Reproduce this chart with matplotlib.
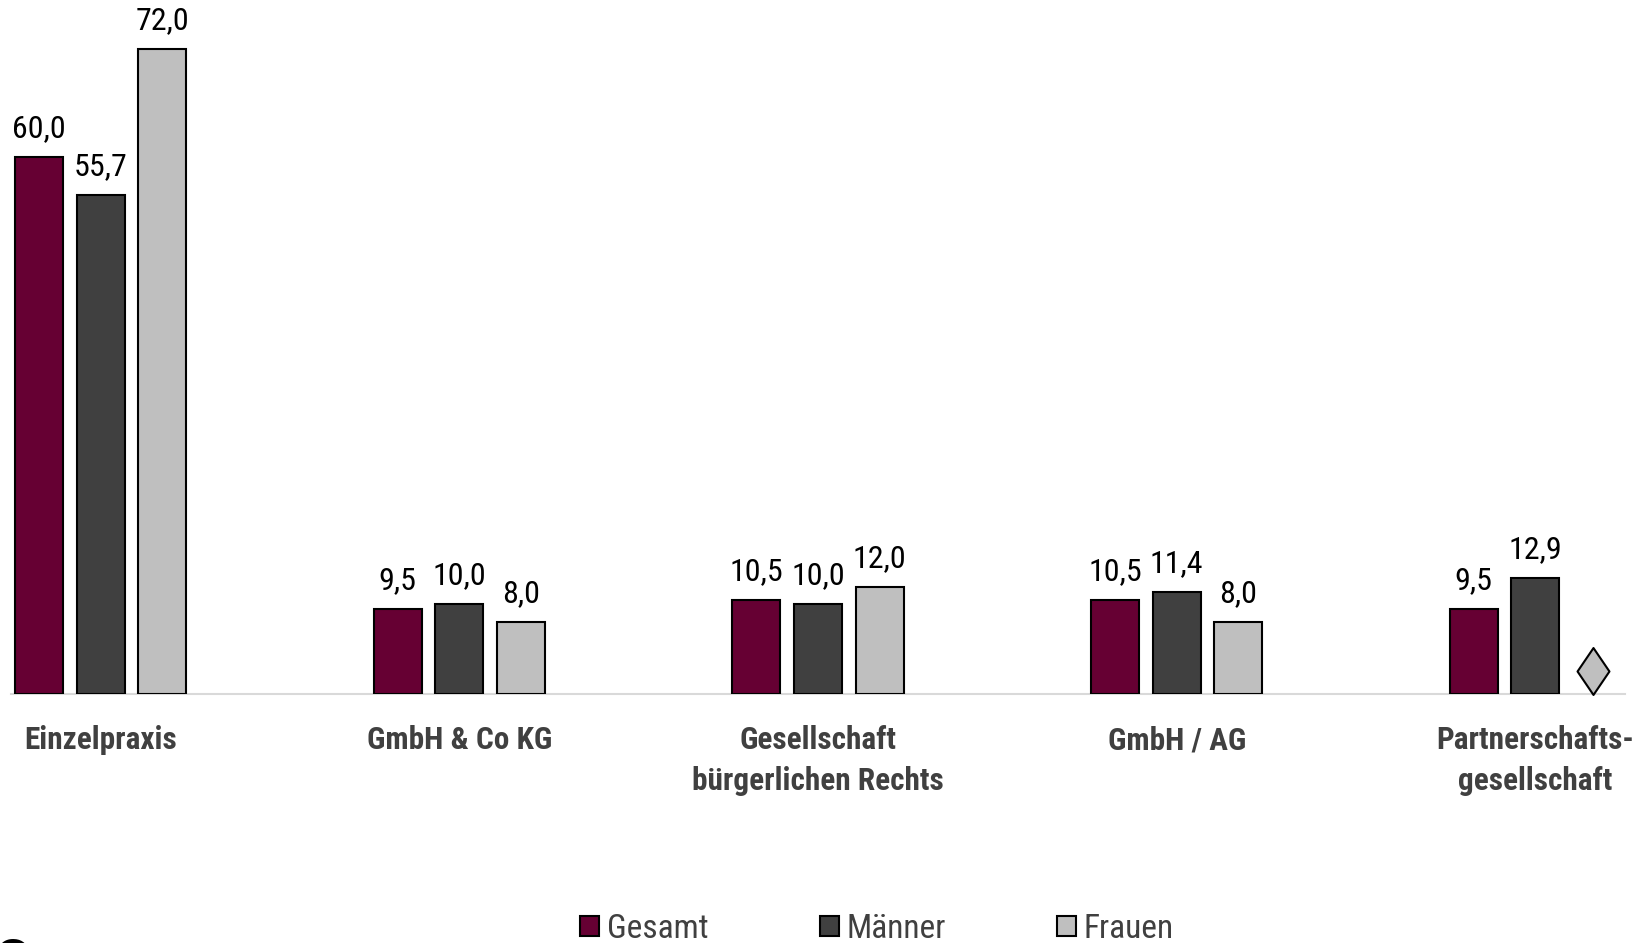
import matplotlib
matplotlib.use("Agg")
import matplotlib.pyplot as plt
import numpy as np
from matplotlib.path import Path

plt.rcParams['font.family'] = ['Liberation Sans Narrow', 'Arial Narrow', 'Roboto Condensed',
                               'Archivo Narrow', 'PT Sans Narrow', 'Liberation Sans', 'DejaVu Sans']

categories = ["Einzelpraxis", "GmbH & Co KG", "Gesellschaft\nbürgerlichen Rechts",
              "GmbH / AG", "Partnerschafts-\ngesellschaft"]
series_names = ["Gesamt", "Männer", "Frauen"]
gesamt = [60.0, 9.5, 10.5, 10.5, 9.5]
maenner = [55.7, 10.0, 10.0, 11.4, 12.9]
frauen = [72.0, 8.0, 12.0, 8.0, np.nan]
missing_marker_value = 2.6   # diamond placeholder (no value for Frauen / Partnerschaftsgesellschaft)

colors = ["#660033", "#404040", "#BFBFBF"]

fig = plt.figure(figsize=(16.46, 9.43), dpi=100)
ax = fig.add_axes([11/1646, 1-694/943, (1625-11)/1646, 694/943])

x = np.arange(len(categories))
step = 0.172
width = 0.134
data = [gesamt, maenner, frauen]
bars = []
for i, (vals, c, name) in enumerate(zip(data, colors, series_names)):
    b = ax.bar(x + (i-1)*step, vals, width, color=c, edgecolor="black", linewidth=1.5,
               label=name, zorder=3)
    bars.append(b)
    labels = ["" if np.isnan(v) else f"{v:.1f}".replace(".", ",") for v in vals]
    ax.bar_label(b, labels=labels, padding=10, fontsize=23, color="black")

# missing value marker
diamond = Path([(0, 1), (0.68, 0), (0, -1), (-0.68, 0), (0, 1)],
               [Path.MOVETO, Path.LINETO, Path.LINETO, Path.LINETO, Path.CLOSEPOLY])
ax.plot([x[4] + step - 0.011], [missing_marker_value], marker=diamond, markersize=33.8,
        markerfacecolor=colors[2], markeredgecolor="black", markeredgewidth=1.5,
        linestyle="none", zorder=4, clip_on=False)

ax.set_xlim(-0.25, 4.25)
ax.set_ylim(0, 694/8.955)
for s in ["top", "right", "left"]:
    ax.spines[s].set_visible(False)
ax.spines["bottom"].set_color("#D9D9D9")
ax.spines["bottom"].set_linewidth(1.5)
ax.set_yticks([])
ax.set_xticks(x)
ax.set_xticklabels(categories, fontsize=22.5, fontweight="bold", color="#404040",
                   linespacing=1.45)
ax.tick_params(axis="x", length=0, pad=22.5)

leg = fig.legend(handles=bars, labels=series_names, loc="center",
                 bbox_to_anchor=(877/1646, 1-929/943), ncol=3, frameon=False,
                 fontsize=24, handlelength=0.57, handleheight=0.57, handletextpad=0.22,
                 columnspacing=3.35, labelcolor="#404040", borderpad=0)

fig.text(-0.004, 1-1000/943, "a", fontsize=58, fontweight="bold", color="black",
         ha="left", va="bottom")

fig.savefig("out.png", dpi=100)
